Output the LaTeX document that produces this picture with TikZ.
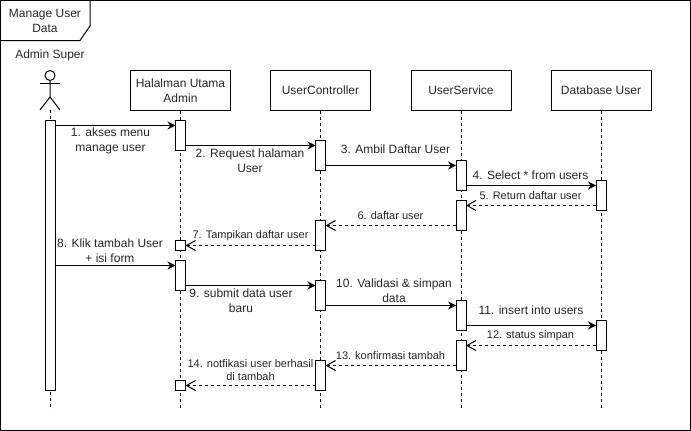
\documentclass[tikz,border=0pt]{standalone}
\usepackage{fontspec}
\setmainfont{Liberation Sans}
\usetikzlibrary{arrows.meta}
\tikzset{
	head/.style={draw,line width=1pt,minimum width=100pt,minimum height=40pt,inner sep=0pt,outer sep=0pt,align=center,font=\fontsize{12}{15}\selectfont,text=black!85},
	act/.style={draw,fill=white,line width=1pt,minimum width=10pt,inner sep=0pt,outer sep=0pt},
	life/.style={line width=1pt,dash pattern=on 3pt off 3pt},
	call/.style={line width=1pt,-{Stealth[length=8pt,width=8pt]}},
	back/.style={line width=1pt,dash pattern=on 3pt off 3pt,-{Straight Barb[length=9pt,width=10pt]}},
	lbl/.style={align=center,inner sep=0pt,font=\fontsize{12}{15}\selectfont,text=black!85},
	lblsm/.style={align=center,inner sep=0pt,font=\fontsize{11}{13}\selectfont,text=black!85}
}
\begin{document}
\begin{tikzpicture}[x=1pt,y=-1pt]
	\useasboundingbox (0,0) rectangle (691,431);
	%frame
	\draw[line width=1pt] (0.5,0.5) rectangle (690.5,430.5);
	\draw[line width=1pt] (0.5,40.5) -- (80,40.5) -- (90,26) -- (90,0.5);
	\node[lbl] (frametitle) at (45,20.5) {Manage User\\Data};

	%actor
	\node[lbl] (actorname) at (50,55) {Admin Super};
	\node[draw,circle,line width=1pt,minimum size=10pt,inner sep=0pt] (actorhead) at (50,75.5) {};
	\coordinate (actorhip) at (50,97);
	\coordinate (actorfoot) at (50,110);
	\coordinate (actorarml) at (40,83.5);
	\coordinate (actorarmr) at (60,83.5);
	\coordinate (actorlegl) at (40,110);
	\coordinate (actorlegr) at (60,110);
	\draw[line width=1pt] (actorhead) -- (actorhip) -- (actorlegl);
	\draw[line width=1pt] (actorhip) -- (actorlegr);
	\draw[line width=1pt] (actorarml) -- (actorarmr);

	%headers
	\node[head] (halaman) at (180.5,90.5) {Halalman Utama\\Admin};
	\node[head] (controller) at (320.5,90.5) {UserController};
	\node[head] (service) at (461,90.5) {UserService};
	\node[head] (database) at (601,90.5) {Database User};

	%lifelines
	\coordinate (actorend) at (50,410);
	\coordinate (halamanend) at (180.5,410);
	\coordinate (controllerend) at (320.5,410);
	\coordinate (serviceend) at (461,410);
	\coordinate (databaseend) at (601,410);
	\draw[life] (actorfoot) -- (actorend);
	\draw[life] (halaman) -- (halamanend);
	\draw[life] (controller) -- (controllerend);
	\draw[life] (service) -- (serviceend);
	\draw[life] (database) -- (databaseend);

	%activations
	\node[act,minimum height=270pt] (a0) at (50,255.5) {};
	\node[act,minimum height=30pt] (h1) at (180.5,135.5) {};
	\node[act,minimum height=10pt] (h2) at (180.5,245.5) {};
	\node[act,minimum height=30pt] (h3) at (180.5,275.5) {};
	\node[act,minimum height=10pt] (h4) at (180.5,385.5) {};
	\node[act,minimum height=30pt] (c1) at (320.5,155.5) {};
	\node[act,minimum height=30pt] (c2) at (320.5,235.5) {};
	\node[act,minimum height=30pt] (c3) at (320.5,295.5) {};
	\node[act,minimum height=30pt] (c4) at (320.5,375.5) {};
	\node[act,minimum height=30pt] (s1) at (461,175.5) {};
	\node[act,minimum height=30pt] (s2) at (461,215.5) {};
	\node[act,minimum height=30pt] (s3) at (461,315.5) {};
	\node[act,minimum height=30pt] (s4) at (461,355.5) {};
	\node[act,minimum height=30pt] (d1) at (601,195.5) {};
	\node[act,minimum height=30pt] (d2) at (601,335.5) {};

	%messages
	\coordinate (m1) at ([yshift=-5pt]h1.north west);
	\draw[call] (a0.east |- m1) -- (m1);
	\node[lbl] (t1) at (110.5,140.5) {1. akses menu\\manage user};
	\draw[call] ([yshift=5pt]h1.south east) -- ([yshift=-5pt]c1.north west);
	\node[lbl] (t2) at (250,160.5) {2. Request halaman\\User};
	\draw[call] ([yshift=5pt]c1.south east) -- ([yshift=-5pt]s1.north west);
	\node[lbl] (t3) at (395.5,149) {3. Ambil Daftar User};
	\draw[call] ([yshift=5pt]s1.south east) -- ([yshift=-5pt]d1.north west);
	\node[lbl] (t4) at (530.5,175) {4. Select * from users};
	\draw[back] ([yshift=5pt]d1.south west) -- ([yshift=-5pt]s2.north east);
	\node[lblsm] (t5) at (530.5,196) {5. Return daftar user};
	\draw[back] ([yshift=5pt]s2.south west) -- ([yshift=-5pt]c2.north east);
	\node[lblsm] (t6) at (390.5,216) {6. daftar user};
	\draw[back] ([yshift=5pt]c2.south west) -- (h2.east);
	\node[lblsm] (t7) at (250.5,236) {7. Tampikan daftar user};
	\coordinate (m8) at ([yshift=-5pt]h3.north west);
	\draw[call] (a0.east |- m8) -- (m8);
	\node[lbl] (t8) at (110,250.5) {8. Klik tambah User\\+ isi form};
	\draw[call] ([yshift=5pt]h3.south east) -- ([yshift=-5pt]c3.north west);
	\node[lbl] (t9) at (241,300.5) {9. submit data user\\baru};
	\draw[call] ([yshift=5pt]c3.south east) -- ([yshift=-5pt]s3.north west);
	\node[lbl] (t10) at (394,290.5) {10. Validasi \& simpan\\data};
	\draw[call] ([yshift=5pt]s3.south east) -- ([yshift=-5pt]d2.north west);
	\node[lbl] (t11) at (531,310) {11. insert into users};
	\draw[back] ([yshift=5pt]d2.south west) -- ([yshift=-5pt]s4.north east);
	\node[lblsm] (t12) at (530.5,336) {12. status simpan};
	\draw[back] ([yshift=5pt]s4.south west) -- ([yshift=-5pt]c4.north east);
	\node[lblsm] (t13) at (390.5,356) {13. konfirmasi tambah};
	\draw[back] ([yshift=5pt]c4.south west) -- (h4.east);
	\node[lblsm] (t14) at (250.5,370) {14. notfikasi user berhasil\\di tambah};
\end{tikzpicture}
\end{document}
